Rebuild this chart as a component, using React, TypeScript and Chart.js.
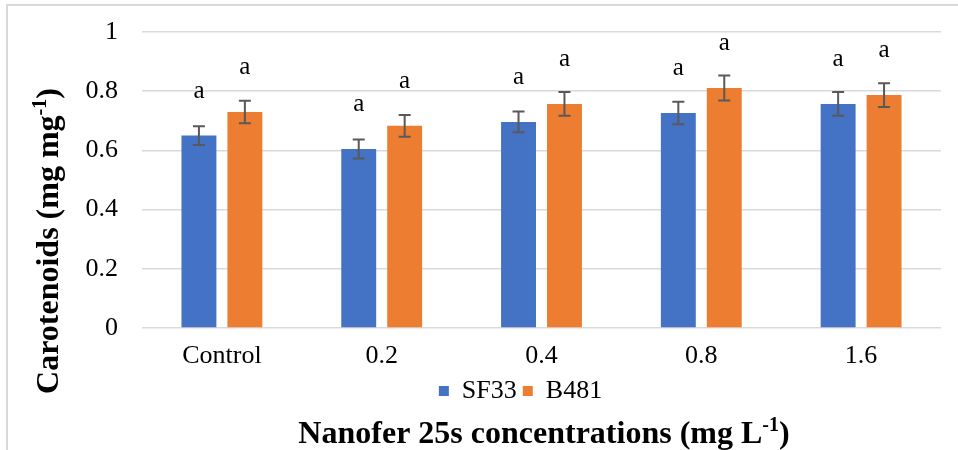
import React, { useEffect, useRef } from "react";
import { Chart, registerables } from "chart.js";

Chart.register(...registerables);

const categories = ["Control", "0.2", "0.4", "0.8", "1.6"];
const seriesNames = ["SF33", "B481"];
const sf33Values = [0.65, 0.605, 0.696, 0.726, 0.757];
const b481Values = [0.73, 0.683, 0.757, 0.811, 0.787];
const sf33Errors = [0.032, 0.032, 0.035, 0.038, 0.04];
const b481Errors = [0.038, 0.037, 0.04, 0.042, 0.04];
const sf33Letters = ["a", "a", "a", "a", "a"];
const b481Letters = ["a", "a", "a", "a", "a"];
const yTitleMain = "Carotenoids (mg mg";
const yTitleSup = "-1";
const yTitleEnd = ")";
const xTitleMain = "Nanofer 25s concentrations (mg L";
const xTitleSup = "-1";
const xTitleEnd = ")";

const SERIF = "'Liberation Serif', 'Times New Roman', serif";

function drawSupText(
  ctx: CanvasRenderingContext2D,
  main: string,
  sup: string,
  end: string,
  size: number
) {
  const mainFont = `bold ${size}px ${SERIF}`;
  const supFont = `bold ${Math.round(size * 0.62)}px ${SERIF}`;
  ctx.font = mainFont;
  const w1 = ctx.measureText(main).width;
  const w3 = ctx.measureText(end).width;
  ctx.font = supFont;
  const w2 = ctx.measureText(sup).width;
  const total = w1 + w2 + w3;
  let x = -total / 2;
  ctx.textAlign = "left";
  ctx.textBaseline = "alphabetic";
  ctx.font = mainFont;
  ctx.fillText(main, x, 0);
  x += w1;
  ctx.font = supFont;
  ctx.fillText(sup, x, -size * 0.36);
  x += w2;
  ctx.font = mainFont;
  ctx.fillText(end, x, 0);
}

const LEGEND_SHIFT = 45;

const extrasPlugin = {
  id: "extras",
  afterLayout(chart: any) {
    const lg = chart.legend;
    if (lg) {
      lg.left += LEGEND_SHIFT;
      lg.right += LEGEND_SHIFT;
    }
  },
  afterDatasetsDraw(chart: any) {
    const ctx: CanvasRenderingContext2D = chart.ctx;
    const yScale = chart.scales.y;
    const errs = [sf33Errors, b481Errors];
    const letters = [sf33Letters, b481Letters];
    ctx.save();
    chart.data.datasets.forEach((ds: any, di: number) => {
      const meta = chart.getDatasetMeta(di);
      meta.data.forEach((el: any, i: number) => {
        const v = ds.data[i];
        const e = errs[di][i];
        const yTop = yScale.getPixelForValue(v + e);
        const yBot = yScale.getPixelForValue(v - e);
        const cap = 6;
        ctx.strokeStyle = "#595959";
        ctx.lineWidth = 2;
        ctx.beginPath();
        ctx.moveTo(el.x, yTop);
        ctx.lineTo(el.x, yBot);
        ctx.moveTo(el.x - cap, yTop);
        ctx.lineTo(el.x + cap, yTop);
        ctx.moveTo(el.x - cap, yBot);
        ctx.lineTo(el.x + cap, yBot);
        ctx.stroke();
        ctx.fillStyle = "#000000";
        ctx.font = `25px ${SERIF}`;
        ctx.textAlign = "center";
        ctx.textBaseline = "alphabetic";
        ctx.fillText(letters[di][i], el.x, el.y - 38);
      });
    });
    ctx.restore();
  },
  afterDraw(chart: any) {
    const ctx: CanvasRenderingContext2D = chart.ctx;
    ctx.save();
    ctx.fillStyle = "#000000";
    ctx.translate(58, 241);
    ctx.rotate(-Math.PI / 2);
    drawSupText(ctx, yTitleMain, yTitleSup, yTitleEnd, 32);
    ctx.restore();
    ctx.save();
    ctx.fillStyle = "#000000";
    ctx.translate(544, 443);
    drawSupText(ctx, xTitleMain, xTitleSup, xTitleEnd, 32);
    ctx.restore();
  },
};

export default function App() {
  const canvasRef = useRef<HTMLCanvasElement | null>(null);

  useEffect(() => {
    if (!canvasRef.current) return;
    const chart = new Chart(canvasRef.current, {
      type: "bar",
      data: {
        labels: categories,
        datasets: [
          {
            label: seriesNames[0],
            data: sf33Values,
            backgroundColor: "#4472C4",
            barPercentage: 0.76,
            categoryPercentage: 0.575,
          },
          {
            label: seriesNames[1],
            data: b481Values,
            backgroundColor: "#ED7D31",
            barPercentage: 0.76,
            categoryPercentage: 0.575,
          },
        ],
      },
      options: {
        animation: false,
        responsive: true,
        maintainAspectRatio: false,
        layout: { padding: { left: 10, right: 17, top: 32, bottom: 36 } },
        plugins: {
          tooltip: { enabled: false },
          legend: {
            position: "bottom",
            labels: {
              boxWidth: 10,
              boxHeight: 10,
              padding: 6,
              color: "#000000",
              font: { family: SERIF, size: 26 },
            },
          },
        },
        scales: {
          x: {
            grid: { display: false, drawTicks: false },
            border: { display: false },
            ticks: {
              padding: 13,
              color: "#000000",
              font: { family: SERIF, size: 26 },
              maxRotation: 0,
            },
            afterFit: (scale: any) => {
              scale.height = 44;
            },
          },
          y: {
            min: 0,
            max: 1,
            ticks: {
              stepSize: 0.2,
              padding: 24,
              color: "#000000",
              font: { family: SERIF, size: 26 },
              callback: (value: any) => String(Math.round(Number(value) * 10) / 10),
            },
            grid: { color: "#d9d9d9", lineWidth: 1.5, drawTicks: false },
            border: { display: false },
            afterFit: (scale: any) => {
              scale.width = 132;
              scale.paddingTop = 16;
              scale.paddingBottom = 16;
            },
          },
        },
      },
      plugins: [extrasPlugin],
    });
    return () => chart.destroy();
  }, []);

  return (
    <div style={{ position: "absolute", left: 0, top: 0, width: 958, height: 450, background: "#ffffff", overflow: "hidden" }}>
      <div
        style={{
          position: "absolute",
          left: 6,
          top: 4,
          width: 970,
          height: 470,
          borderLeft: "2px solid #d9d9d9",
          borderTop: "2px solid #d9d9d9",
        }}
      />
      <div style={{ position: "absolute", left: 0, top: 0, width: 958, height: 450 }}>
        <canvas ref={canvasRef} />
      </div>
    </div>
  );
}
